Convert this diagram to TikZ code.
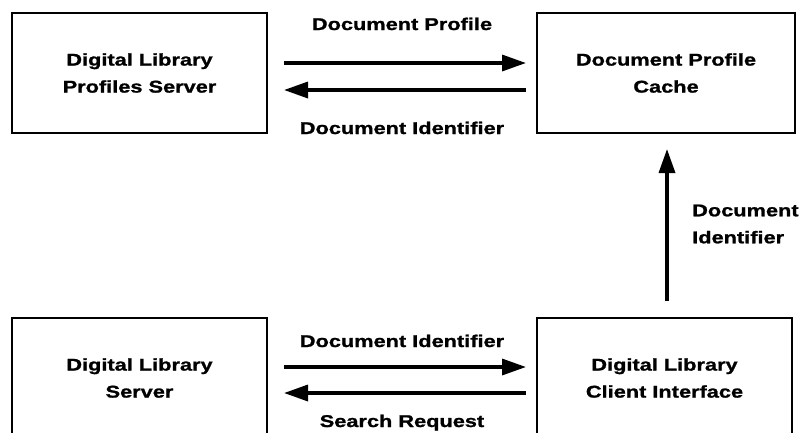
\documentclass[tikz,border=0pt]{standalone}
\usepackage{fontspec}
\setmainfont{Liberation Sans}[FakeStretch=1.28, FakeBold=1.2]
\usetikzlibrary{arrows.meta}
\begin{document}
\begin{tikzpicture}[x=1pt,y=-1pt,
  box/.style={draw, line width=2pt, minimum width=255pt, minimum height=120pt,
    inner sep=0pt, align=center, font=\fontsize{17}{27}\selectfont\bfseries},
  flow/.style={line width=3.4pt, -{Triangle[length=24pt,width=16pt]}},
  lbl/.style={font=\fontsize{17}{27}\selectfont\bfseries, inner sep=0pt}]
\useasboundingbox (0,0) rectangle (802,432);
\clip (0,0) rectangle (802,432);

% the four components
\node[box] (dlps) at (139.5,73) {Digital Library\\Profiles Server};
\node[box, minimum width=258pt] (cache) at (666,73) {Document Profile\\Cache};
\node[box] (dls) at (139.5,378) {Digital Library\\Server};
\node[box] (client) at (664.5,378) {Digital Library\\Client Interface};

% exchanges between profiles server and cache
\draw[flow] ([xshift=16pt,yshift=10pt]dlps.east) -- ([xshift=-10pt,yshift=10pt]cache.west);
\draw[flow] ([xshift=-10pt,yshift=-17pt]cache.west) -- ([xshift=16pt,yshift=-17pt]dlps.east);
\node[lbl, anchor=base] (lp) at (402,30) {Document Profile};
\node[lbl, anchor=base] (li) at (402,134) {Document Identifier};

% client interface to cache
\draw[flow] ([xshift=2.5pt,yshift=16pt]client.north) -- ([xshift=1pt,yshift=-15pt]cache.south);
\node[lbl, anchor=west, align=left] (lv) at (692,224) {Document\\Identifier};

% exchanges between library server and client interface
\draw[flow] ([xshift=16pt,yshift=11pt]dls.east) -- ([xshift=-10pt,yshift=11pt]client.west);
\draw[flow] ([xshift=-10pt,yshift=-15pt]client.west) -- ([xshift=16pt,yshift=-15pt]dls.east);
\node[lbl, anchor=base] (bi) at (402,347) {Document Identifier};
\node[lbl, anchor=base] (sr) at (402,427) {Search Request};
\end{tikzpicture}
\end{document}
